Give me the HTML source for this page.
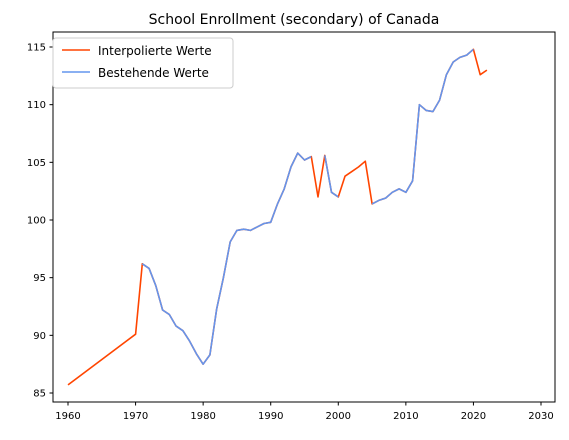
<!DOCTYPE html>
<html><head><meta charset="utf-8"><style>
body{margin:0;background:#fff}
svg text{font-family:"DejaVu Sans","Liberation Sans",sans-serif;fill:#000}
</style></head><body>
<svg id="chart" width="569" height="435" xmlns="http://www.w3.org/2000/svg">
<text x="294" y="24" font-size="14" text-anchor="middle">School Enrollment (secondary) of Canada</text>
<g id="axes"></g>
<g id="lines"></g>
<rect x="53" y="32" width="502" height="370" fill="none" stroke="#000" stroke-width="1"/>
<g>
<rect x="53" y="38" width="180" height="50" rx="3" fill="#fff" stroke="#ccc"/>
<line x1="62" y1="50" x2="90" y2="50" stroke="#ff4500" stroke-width="1.6"/>
<text x="98" y="55" font-size="12">Interpolierte Werte</text>
<line x1="62" y1="72" x2="90" y2="72" stroke="#6495ed" stroke-width="1.6"/>
<text x="98" y="77" font-size="12">Bestehende Werte</text>
</g>
</svg>
<script>
const years=[1960,1970,1971,1972,1973,1974,1975,1976,1977,1978,1979,1980,1981,1982,1983,1984,1985,1986,1987,1988,1989,1990,1991,1992,1993,1994,1995,1996,1997,1998,1999,2000,2001,2002,2003,2004,2005,2006,2007,2008,2009,2010,2011,2012,2013,2014,2015,2016,2017,2018,2019,2020,2021,2022];
const interpolated=[85.7,90.1,96.2,95.8,94.3,92.2,91.8,90.8,90.4,89.5,88.4,87.5,88.3,92.3,95.0,98.1,99.1,99.2,99.1,99.4,99.7,99.8,101.4,102.7,104.6,105.8,105.2,105.5,102.0,105.6,102.4,102.0,103.8,104.2,104.6,105.1,101.4,101.7,101.9,102.4,102.7,102.4,103.4,110.0,109.5,109.4,110.4,112.6,113.7,114.1,114.3,114.8,112.6,113.0];
const existing=[null,null,96.2,95.8,94.3,92.2,91.8,90.8,90.4,89.5,88.4,87.5,88.3,92.3,95.0,98.1,99.1,99.2,99.1,99.4,99.7,99.8,101.4,102.7,104.6,105.8,105.2,105.5,null,105.6,102.4,102.0,null,null,null,null,101.4,101.7,101.9,102.4,102.7,102.4,103.4,110.0,109.5,109.4,110.4,112.6,113.7,114.1,114.3,114.8,null,null];
const xTicks=[1960,1970,1980,1990,2000,2010,2020,2030];
const yTicks=[85,90,95,100,105,110,115];
const NS="http://www.w3.org/2000/svg";
const X=v=>68+(v-1960)*(541-68)/70;
const Y=v=>393-(v-85)*(393-47)/30;
const axes=document.getElementById('axes'),lines=document.getElementById('lines');
function mk(tag,attrs,parent){const e=document.createElementNS(NS,tag);for(const k in attrs)e.setAttribute(k,attrs[k]);parent.appendChild(e);return e;}
xTicks.forEach(t=>{
  const l=mk('line',{x1:X(t),x2:X(t),y1:402,y2:405.5,stroke:'#000'},axes);
  
  
  const tx=mk('text',{x:X(t),y:419,'font-size':10,'text-anchor':'middle'},axes);
  tx.textContent=t;
  
  
});
yTicks.forEach(t=>{
  const l=mk('line',{x1:49.5,x2:53,y1:Y(t),y2:Y(t),stroke:'#000'},axes);
  
  
  const tx=mk('text',{x:46,y:Y(t)+3.5,'font-size':10,'text-anchor':'end'},axes);
  tx.textContent=t;
  
  
});
function path(vals){let d='',pen=false;vals.forEach((v,i)=>{if(v==null){pen=false;return;}d+=(pen?'L':'M')+X(years[i]).toFixed(1)+' '+Y(v).toFixed(1);pen=true;});return d;}
const p1=mk('path',{d:path(interpolated),fill:'none',stroke:'#ff4500','stroke-width':1.6,'stroke-linejoin':'round'},lines);


const p2=mk('path',{d:path(existing),fill:'none',stroke:'#6495ed','stroke-width':1.6,'stroke-linejoin':'round'},lines);


</script>
</body></html>
